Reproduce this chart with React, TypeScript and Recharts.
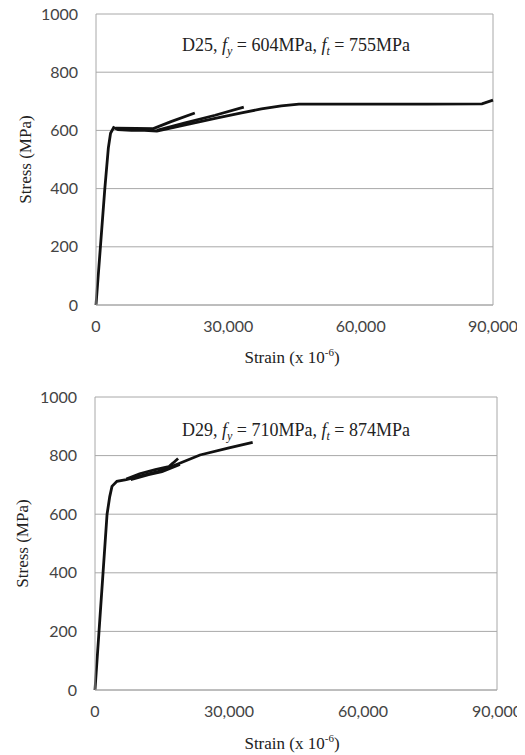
import React from "react";
import { LineChart, Line, XAxis, YAxis, CartesianGrid, ReferenceLine } from "recharts";

// Tick values shared by both panels
const strainTicks = [0, 30000, 60000, 90000];
const stressTicks = [0, 200, 400, 600, 800, 1000];

// D25 bar, main envelope and the two reloading branches
const d25MainStrain = [0, 1000, 2000, 2800, 3300, 4000, 5000, 8000, 11000, 13800, 20000, 27000, 33000, 37500, 42000, 46000, 60000, 75000, 87500, 90000];
const d25MainStress = [0, 200, 400, 540, 590, 610, 603, 600, 600, 598, 618, 641, 660, 674, 684, 690, 690, 690, 691, 704];
const d25BranchAStrain = [4500, 9000, 13000, 17000, 22400];
const d25BranchAStress = [608, 607, 606, 630, 660];
const d25BranchBStrain = [13800, 20000, 27000, 33500];
const d25BranchBStress = [600, 625, 652, 680];

// D29 bar
const d29MainStrain = [0, 900, 1800, 2700, 3300, 3800, 4900, 7000, 10000, 14000, 18000, 23500, 30000, 35300];
const d29MainStress = [0, 200, 400, 600, 660, 695, 712, 718, 730, 745, 768, 802, 826, 845];
const d29LoopAStrain = [7000, 10000, 13500, 16500, 17500, 18600];
const d29LoopAStress = [720, 738, 752, 762, 775, 790];
const d29LoopBStrain = [8000, 12000, 15000, 19000];
const d29LoopBStress = [718, 735, 745, 770];

const zip = (xs: number[], ys: number[]) => xs.map((x, i) => ({ strain: x, stress: ys[i] }));

const serif = "'Liberation Serif', 'Times New Roman', serif";
const sans = "Lato, 'Open Sans', sans-serif";
const gridColor = "#a8a8a8";

type PanelProps = {
  top: number;
  height: number;
  margin: { top: number; right: number; left: number; bottom: number };
  series: { strain: number; stress: number }[][];
  bar: string;
  fy: number;
  ft: number;
  titleY: number;
  xTitleY: number;
  yTitleX: number;
};

function Panel({ top, height, margin, series, bar, fy, ft, titleY, xTitleY, yTitleX }: PanelProps) {
  const plotMid = margin.top + (height - margin.top - margin.bottom - 40) / 2;
  return (
    <div style={{ position: "absolute", left: 0, top, width: 525, height }}>
      <LineChart width={525} height={height} margin={margin}>
        <CartesianGrid vertical={false} stroke={gridColor} />
        <XAxis
          type="number"
          dataKey="strain"
          domain={[0, 90000]}
          ticks={strainTicks}
          tickFormatter={(v: number) => v.toLocaleString("en-US")}
          axisLine={{ stroke: gridColor }}
          tickLine={false}
          tickSize={0}
          tickMargin={16}
          height={40}
          tick={{ fill: "#444", fontFamily: sans, fontSize: 16 }}
        />
        <YAxis
          type="number"
          domain={[0, 1000]}
          ticks={stressTicks}
          axisLine={{ stroke: gridColor }}
          tickLine={false}
          tickSize={0}
          tickMargin={18}
          width={60}
          tick={{ fill: "#444", fontFamily: sans, fontSize: 16 }}
        />
        <ReferenceLine x={90000} stroke={gridColor} />
        {series.map((d, i) => (
          <Line
            key={i}
            data={d}
            dataKey="stress"
            type="linear"
            stroke="#111"
            strokeWidth={2.8}
            dot={false}
            isAnimationActive={false}
          />
        ))}
        <text x={296} y={titleY} textAnchor="middle" fontFamily={serif} fontSize={18} fill="#222">
          {bar}, <tspan fontStyle="italic">f</tspan>
          <tspan fontStyle="italic" fontSize={12} dy={4}>y</tspan>
          <tspan dy={-4}> = {fy}MPa, </tspan>
          <tspan fontStyle="italic">f</tspan>
          <tspan fontStyle="italic" fontSize={12} dy={4}>t</tspan>
          <tspan dy={-4}> = {ft}MPa</tspan>
        </text>
        <text x={292} y={xTitleY} textAnchor="middle" fontFamily={serif} fontSize={17} fill="#222">
          Strain (x 10<tspan fontSize={11} dy={-7}>-6</tspan>
          <tspan dy={7}>)</tspan>
        </text>
        <text
          x={yTitleX}
          y={plotMid}
          textAnchor="middle"
          fontFamily={serif}
          fontSize={17}
          fill="#222"
          transform={`rotate(-90, ${yTitleX}, ${plotMid})`}
        >
          Stress (MPa)
        </text>
      </LineChart>
    </div>
  );
}

export default function App() {
  return (
    <div style={{ position: "relative", width: 525, height: 755 }}>
      <div style={{ position: "absolute", left: -8, top: -8, width: 525, height: 755, background: "#fff" }}>
        <Panel
          top={0}
          height={378}
          margin={{ top: 14, right: 32, left: 36, bottom: 33 }}
          series={[
            zip(d25MainStrain, d25MainStress),
            zip(d25BranchAStrain, d25BranchAStress),
            zip(d25BranchBStrain, d25BranchBStress),
          ]}
          bar="D25"
          fy={604}
          ft={755}
          titleY={51}
          xTitleY={363}
          yTitleX={31}
        />
        <Panel
          top={383}
          height={372}
          margin={{ top: 14, right: 28, left: 35, bottom: 25 }}
          series={[
            zip(d29MainStrain, d29MainStress),
            zip(d29LoopAStrain, d29LoopAStress),
            zip(d29LoopBStrain, d29LoopBStress),
          ]}
          bar="D29"
          fy={710}
          ft={874}
          titleY={53}
          xTitleY={366}
          yTitleX={28}
        />
      </div>
    </div>
  );
}
